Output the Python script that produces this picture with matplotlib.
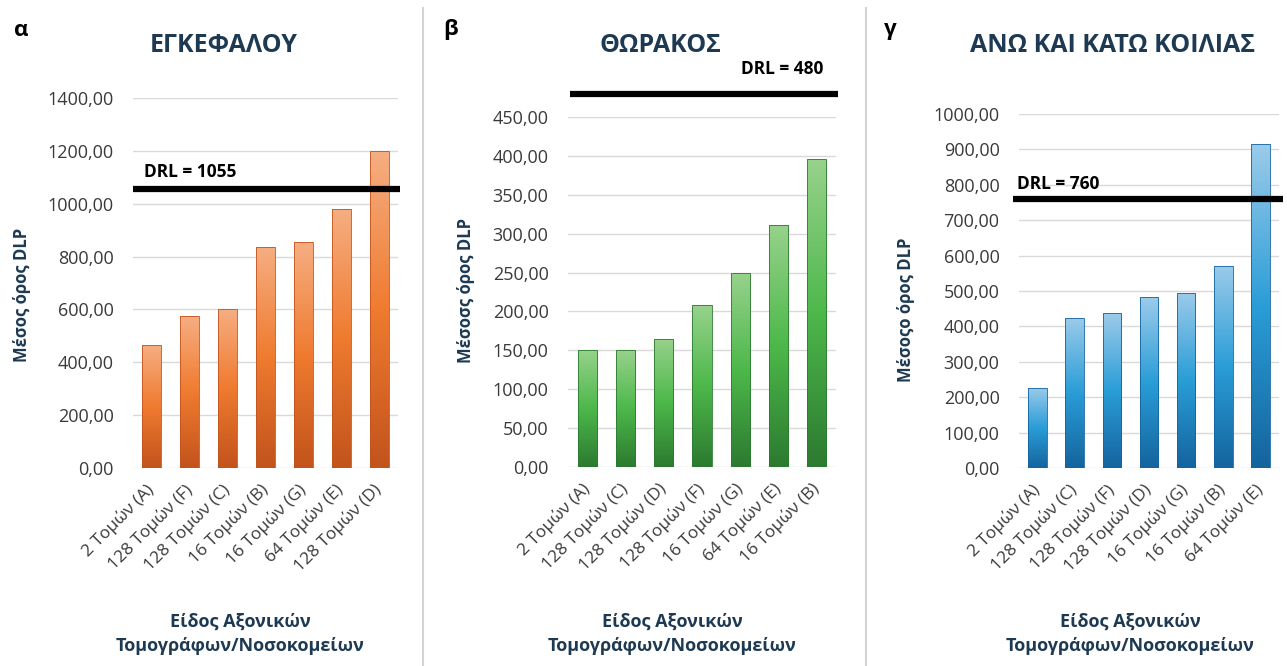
import numpy as np
import matplotlib
matplotlib.use('Agg')
import matplotlib.pyplot as plt
from matplotlib.colors import LinearSegmentedColormap
from matplotlib.lines import Line2D
from matplotlib.ticker import FuncFormatter, MultipleLocator

plt.rcParams['font.family'] = ['Open Sans', 'Noto Sans', 'DejaVu Sans']

# --- data ---
head_labels = ['2 Τομών (A)', '128 Τομών (F)', '128 Τομών (C)', '16 Τομών (B)',
               '16 Τομών (G)', '64 Τομών (E)', '128 Τομών (D)']
head_dlp = [465, 575, 603, 837, 854, 980, 1199]
head_drl = 1055

chest_labels = ['2 Τομών (A)', '128 Τομών (C)', '128 Τομών (D)', '128 Τομών (F)',
                '16 Τομών (G)', '64 Τομών (E)', '16 Τομών (B)']
chest_dlp = [150, 150, 165, 208, 249, 311, 396]
chest_drl = 480

abd_labels = ['2 Τομών (A)', '128 Τομών (C)', '128 Τομών (F)', '128 Τομών (D)',
              '16 Τομών (G)', '16 Τομών (B)', '64 Τομών (E)']
abd_dlp = [226, 425, 437, 483, 495, 572, 915]
abd_drl = 760

W, H = 1287, 666
fig = plt.figure(figsize=(W / 100, H / 100), dpi=100)
fig.patch.set_facecolor('white')

NAVY = '#1d3a52'
TICK = '#3a3a3a'


def px(x, y):
    return x / W, 1 - y / H


def comma_fmt(v, pos):
    return f'{v:.2f}'.replace('.', ',')


def gradient_bars(ax, values, colors):
    cmap = LinearSegmentedColormap.from_list('g', colors)
    bars = ax.bar(range(len(values)), values, width=0.5, color='none',
                  edgecolor=colors[-1], linewidth=0.6, zorder=3)
    grad = np.linspace(0, 1, 256).reshape(-1, 1)
    for b in bars:
        x0, w, h = b.get_x(), b.get_width(), b.get_height()
        im = ax.imshow(grad, cmap=cmap, aspect='auto', origin='upper',
                       extent=(x0, x0 + w, 0, h), zorder=2)
        im.set_clip_path(b)
    return bars


def panel(rect, values, labels, colors, ymax, step, drl, drl_x, drl_dy, line_x):
    ax = fig.add_axes(rect)
    gradient_bars(ax, values, colors)
    ax.set_xlim(-0.5, len(values) - 0.5)
    ax.set_ylim(0, ymax)
    ax.yaxis.set_major_locator(MultipleLocator(step))
    ax.yaxis.set_major_formatter(FuncFormatter(comma_fmt))
    ax.grid(axis='y', color='#d9d9d9', linewidth=1, zorder=0)
    ax.set_axisbelow(True)
    for s in ax.spines.values():
        s.set_visible(False)
    ax.tick_params(axis='y', length=0, pad=14, labelsize=13, labelcolor=TICK)
    ax.tick_params(axis='x', length=0, pad=14, labelsize=12.5, labelcolor=TICK)
    ax.set_xticks(range(len(values)))
    ax.set_xticklabels(labels, rotation=45, ha='right', va='center',
                       rotation_mode='anchor')
    ax.plot(line_x, [drl, drl], color='black', linewidth=4.5,
            solid_capstyle='butt', clip_on=False, zorder=4)
    ax.annotate(f'DRL = {drl}', xy=(drl_x, drl), xytext=(0, drl_dy),
                textcoords='offset pixels', ha='left', va='center',
                fontsize=12.5, fontweight='bold', color='black',
                annotation_clip=False)
    return ax


orange = ['#f6ae82', '#ef7b2f', '#c2531c']
green = ['#97d28c', '#4db84a', '#2c7a30']
blue = ['#9ccbea', '#2a9dd7', '#14649e']

panel([133 / W, 198 / H, 265 / W, 370 / H], head_dlp, head_labels, orange,
      1400, 200, head_drl, -0.21, 17, [-0.5, 6.55])
panel([568 / W, 199 / H, 268 / W, 350 / H], chest_dlp, chest_labels, green,
      450, 50, chest_drl, 4.02, 25, [-0.45, 6.55])
panel([1019 / W, 198 / H, 260 / W, 354 / H], abd_dlp, abd_labels, blue,
      1000, 100, abd_drl, -0.55, 15, [-0.65, 6.6])

# panel titles and letters
for x, t in [(224, 'ΕΓΚΕΦΑΛΟΥ'), (660, 'ΘΩΡΑΚΟΣ'), (1113, 'ΑΝΩ ΚΑΙ ΚΑΤΩ ΚΟΙΛΙΑΣ')]:
    fig.text(*px(x, 45), t, ha='center', va='center', fontsize=18,
             fontweight='bold', color=NAVY)
for x, t in [(14, 'α'), (443, 'β'), (884, 'γ')]:
    fig.text(*px(x, 30), t, ha='left', va='center', fontsize=16,
             fontweight='bold', color='black')

# axis titles
for x, y, t in [(22, 295, 'Μέσος όρος DLP'), (466, 290, 'Μέσοσς όρος DLP'),
                (906, 310, 'Μέσοςο όρος DLP')]:
    fig.text(*px(x, y), t, ha='center', va='center', rotation=90,
             fontsize=12, fontweight='bold', color=NAVY)
for x in [240, 672, 1130]:
    fig.text(*px(x, 634), 'Είδος Αξονικών\nΤομογράφων/Νοσοκομείων',
             ha='center', va='center', fontsize=13, fontweight='bold',
             color=NAVY, linespacing=1.45)

# separators between panels
for x in [423, 866]:
    fig.add_artist(Line2D([x / W, x / W], [0, 1 - 8 / H], color='#d4d4d4',
                          linewidth=1.5))

fig.savefig('out.png', dpi=100)
